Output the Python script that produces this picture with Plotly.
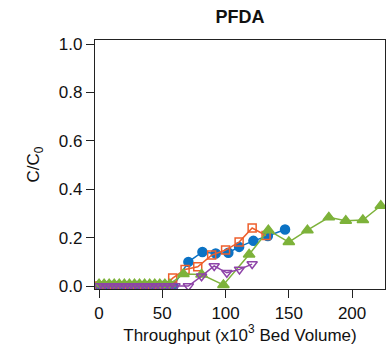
import plotly.graph_objects as go

# Breakthrough data, throughput in thousands of bed volumes
blue_x = [0, 5, 10, 15, 20, 25, 30, 35, 40, 45, 50, 55, 58.7, 70.6, 81.7, 92.2, 102.2, 110.7, 122, 133.4, 147]
blue_y = [0, 0, 0, 0, 0, 0, 0, 0, 0, 0, 0, 0, 0, 0.100, 0.141, 0.135, 0.138, 0.162, 0.187, 0.207, 0.234]

orange_x = [0, 4, 8, 12, 16, 20, 24, 28, 32, 36, 40, 44, 48, 52, 58.2, 68, 78, 89, 100, 110.7, 121, 132]
orange_y = [0, 0, 0, 0, 0, 0, 0, 0, 0, 0, 0, 0, 0, 0, 0.033, 0.069, 0.080, 0.128, 0.149, 0.182, 0.240, 0.209]

green_x = [0, 4, 8, 12, 16, 20, 24, 28, 32, 36, 40, 44, 48, 52, 56, 66.7, 81, 98.3, 118.6, 133.8,
           150, 164.7, 181.6, 195, 208.5, 222.7]
green_y = [0.008, 0.008, 0.008, 0.008, 0.008, 0.008, 0.008, 0.008, 0.008, 0.008, 0.008, 0.008, 0.008,
           0.008, 0.008, 0.050, 0.048, 0.005, 0.131, 0.231, 0.182, 0.231, 0.284, 0.270, 0.273, 0.332]

purple_x = [0, 3, 6, 9, 12, 15, 18, 21, 24, 27, 30, 33, 36, 39, 42, 45, 48, 52, 56, 60, 70.6, 81, 91, 101, 111, 121]
purple_y = [0, 0, 0, 0, 0, 0, 0, 0, 0, 0, 0, 0, 0, 0, 0, 0, 0, 0, 0, 0, 0, 0.041, 0.083, 0.055, 0.069, 0.091]

x_ticks = [0, 50, 100, 150, 200]
y_ticks = [0.0, 0.2, 0.4, 0.6, 0.8, 1.0]

FONT = "Liberation Sans, Arial, sans-serif"

# drawn bottom to top
series = [
    (blue_x, blue_y, "#0B72C4", "circle", 9),
    (orange_x, orange_y, "#EE5F2C", "square-open", 8),
    (green_x, green_y, "#7DB23A", "triangle-up", 10),
    (purple_x, purple_y, "#8E44A8", "triangle-down-open", 9),
]

fig = go.Figure()
for xs, ys, color, symbol, size in series:
    fig.add_trace(go.Scatter(
        x=xs, y=ys, mode="lines+markers",
        line=dict(color=color, width=1.5),
        marker=dict(symbol=symbol, size=size, color=color,
                    line=dict(color=color, width=1.5)),
        showlegend=False,
    ))

axis_common = dict(
    showline=True, linecolor="#222", linewidth=1.2, mirror=True,
    ticks="outside", ticklen=8, tickwidth=1.2, tickcolor="#222",
    showgrid=False, zeroline=False,
    tickfont=dict(family=FONT, size=17, color="#111"),
)

fig.update_xaxes(range=[-3.2, 226], tickvals=x_ticks, ticktext=[str(v) for v in x_ticks],
                 title=dict(text="Throughput (x10<sup>3</sup> Bed Volume)",
                            font=dict(family=FONT, size=17, color="#111"), standoff=4),
                 **axis_common)
fig.update_yaxes(range=[-0.012, 1.017], tickvals=y_ticks, ticktext=[f"{v:.1f}" for v in y_ticks],
                 title=dict(text="C/C<sub>0</sub>", font=dict(family=FONT, size=17, color="#111"),
                            standoff=14),
                 **axis_common)

fig.update_layout(
    width=386, height=354,
    margin=dict(l=95, r=1, t=40, b=65),
    paper_bgcolor="white", plot_bgcolor="white",
    title=dict(text="<b>PFDA</b>", x=0.5, xanchor="center", xref="paper",
               y=1 - 17 / 354, yanchor="middle",
               font=dict(family=FONT, size=18, color="#111")),
)

fig.write_html("out.html")
